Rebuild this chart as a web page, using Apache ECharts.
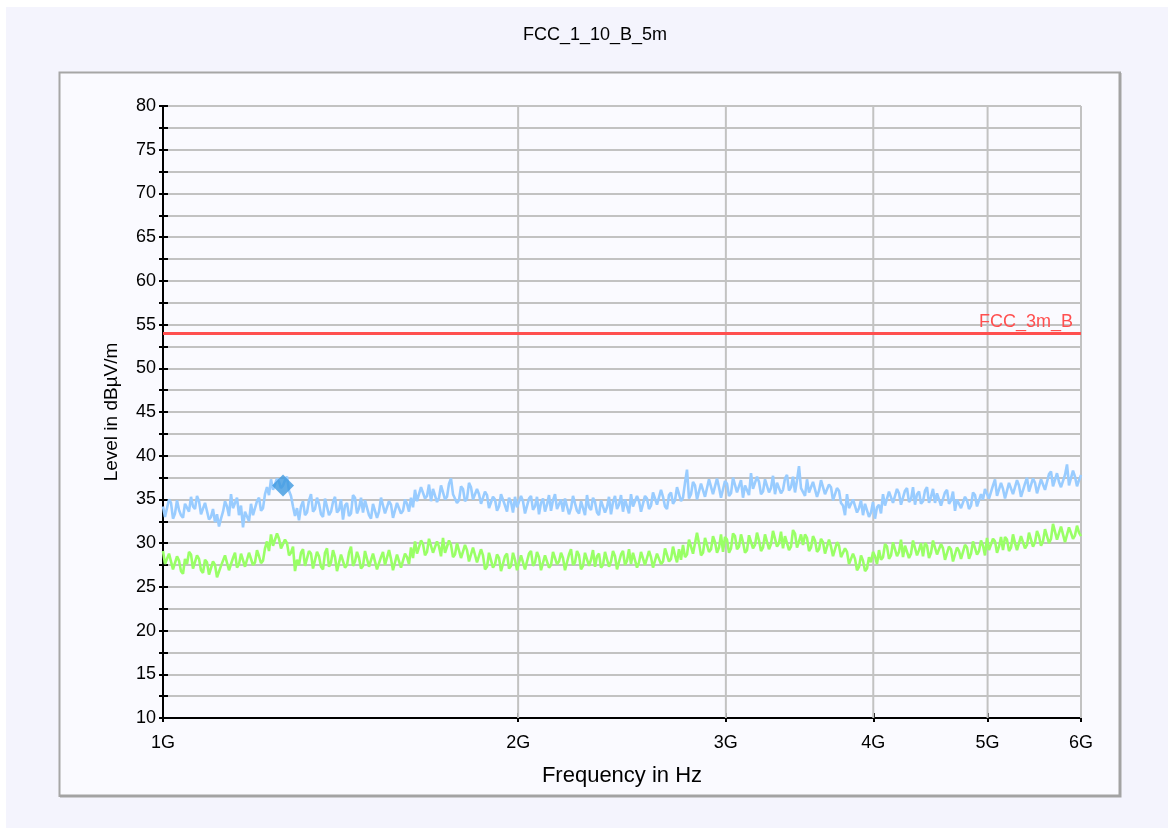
<!DOCTYPE html>
<html>
<head>
<meta charset="utf-8">
<title>FCC_1_10_B_5m</title>
<script src="https://cdn.jsdelivr.net/npm/echarts@6/dist/echarts.min.js"></script>
<style>
  html, body { margin: 0; padding: 0; background: #ffffff; }
  #chart { width: 1168px; height: 828px; }
</style>
</head>
<body>
<div id="chart"></div>
<script>
// Sweep: 1 GHz .. 6 GHz, points evenly spaced on the log-frequency scale
const sweepStartGHz = 1;
const sweepStopGHz = 6;

// Peak detector trace (dBµV/m)
const peakLevels = [
  34.2, 33.0, 33.1, 35.0, 34.6, 32.8, 33.4, 34.9, 33.8, 33.2, 32.9, 34.5, 34.7, 33.6, 35.3, 34.2, 33.9, 35.4, 34.8, 33.3,
  33.5, 34.6, 34.4, 32.7, 33.0, 33.9, 32.4, 33.3, 31.9, 32.8, 33.6, 34.8, 34.2, 33.1, 35.6, 34.0, 34.1, 35.2, 33.2, 34.3,
  31.8, 33.6, 33.4, 32.5, 34.5, 33.2, 33.0, 34.8, 35.2, 33.7, 34.0, 35.6, 36.4, 35.5, 37.3, 36.1, 36.2, 37.4, 37.0, 36.3,
  36.6, 37.2, 37.6, 36.0, 35.4, 34.2, 33.1, 34.0, 32.6, 34.2, 34.8, 33.2, 33.5, 34.9, 35.6, 33.6, 33.9, 35.2, 34.5, 33.3,
  33.0, 35.1, 34.9, 33.2, 33.6, 34.7, 35.3, 33.5, 33.8, 35.0, 32.7, 34.3, 34.6, 33.1, 33.4, 35.5, 35.2, 33.4, 34.0, 35.2,
  33.5, 34.9, 34.7, 33.2, 32.8, 34.5, 34.3, 32.9, 33.6, 35.2, 35.0, 33.4, 33.3, 34.8, 34.4, 32.9, 33.0, 34.6, 34.8, 33.4,
  33.7, 35.0, 34.5, 33.6, 35.2, 34.1, 36.1, 34.8, 35.0, 36.4, 36.5, 35.1, 35.4, 36.7, 34.8, 36.2, 36.0, 34.7, 35.2, 36.6,
  36.7, 35.0, 35.3, 36.8, 37.4, 35.6, 35.8, 34.6, 34.9, 36.5, 36.2, 34.8, 35.1, 36.9, 36.4, 35.0, 34.8, 36.2, 35.6, 34.5,
  34.6, 35.9, 35.5, 34.0, 33.9, 35.3, 35.0, 33.7, 34.2, 35.6, 35.8, 34.3, 33.6, 35.2, 34.7, 33.5, 35.3, 34.1, 34.0, 35.4,
  34.8, 33.4, 33.5, 35.1, 35.4, 33.8, 34.2, 35.3, 33.3, 34.6, 35.1, 33.6, 34.4, 35.5, 33.7, 34.9, 35.6, 33.9, 34.1, 35.0,
  33.6, 35.1, 34.9, 33.3, 34.0, 35.4, 35.3, 33.7, 33.4, 34.8, 34.6, 33.2, 35.5, 34.1, 33.8, 35.2, 34.7, 33.5, 33.2, 34.9,
  35.0, 33.5, 34.1, 35.3, 33.3, 34.7, 35.4, 33.9, 34.4, 35.5, 33.6, 35.0, 34.9, 33.4, 35.6, 34.2, 34.0, 35.4, 34.8, 33.6,
  33.5, 35.4, 35.1, 33.9, 34.3, 35.8, 36.0, 34.4, 34.6, 36.1, 35.3, 34.2, 33.9, 35.5, 35.8, 34.5, 34.9, 36.4, 36.3, 34.8,
  35.2, 36.9, 38.4, 35.1, 35.6, 37.0, 36.6, 35.0, 35.0, 36.8, 36.9, 35.3, 35.4, 37.3, 37.2, 35.6, 35.8, 37.4, 36.4, 35.2,
  35.3, 37.1, 36.8, 35.4, 35.7, 37.5, 37.3, 35.8, 36.0, 37.2, 35.2, 36.6, 36.7, 35.5, 38.0, 36.2, 36.1, 37.6, 37.0, 35.6,
  35.9, 37.3, 37.5, 35.8, 36.3, 37.7, 35.6, 36.9, 36.9, 35.7, 36.1, 37.4, 37.8, 36.0, 36.4, 37.6, 35.8, 37.2, 38.8, 36.3,
  36.2, 35.4, 37.3, 35.8, 35.7, 37.0, 36.8, 35.3, 36.0, 37.2, 37.1, 35.6, 35.5, 36.7, 36.4, 34.9, 35.0, 36.3, 36.0, 34.6,
  34.3, 33.2, 35.6, 34.0, 33.8, 35.0, 35.2, 33.5, 34.0, 34.9, 33.2, 34.5, 34.6, 33.0, 33.5, 34.7, 32.8, 34.1, 34.4, 33.4,
  35.6, 34.3, 34.2, 35.9, 36.0, 34.6, 34.8, 36.2, 35.7, 34.4, 34.5, 36.0, 36.3, 34.7, 35.0, 36.4, 34.4, 35.6, 35.9, 34.5,
  34.8, 36.0, 36.4, 34.6, 35.3, 36.2, 34.6, 35.7, 35.8, 34.3, 34.2, 35.8, 36.1, 34.5, 34.9, 35.9, 33.7, 35.0, 35.2, 34.0,
  33.8, 35.3, 34.9, 33.9, 34.3, 35.8, 35.5, 34.2, 34.1, 35.6, 35.0, 36.2, 36.4, 35.1, 35.2, 36.6, 37.3, 35.4, 35.6, 36.9,
  36.2, 35.1, 35.3, 36.9, 37.0, 35.6, 35.7, 37.2, 36.6, 35.3, 35.4, 36.8, 37.5, 35.9, 36.0, 37.4, 36.9, 35.7, 35.8, 37.3,
  37.4, 36.1, 36.3, 37.9, 38.2, 36.5, 36.6, 38.0, 37.0, 36.4, 36.2, 37.8, 39.0, 36.6, 36.8, 38.3, 37.6, 36.5, 37.2, 37.8
];

// Average detector trace (dBµV/m)
const avgLevels = [
  29.1, 27.6, 27.4, 28.8, 28.6, 27.0, 26.9, 28.5, 28.0, 26.8, 26.5, 28.2, 27.6, 29.0, 28.7, 27.1, 27.3, 28.6, 28.2, 26.9,
  26.6, 28.1, 27.8, 26.4, 26.2, 27.9, 27.5, 26.1, 25.9, 27.4, 27.2, 28.6, 28.4, 26.9, 26.8, 28.3, 28.9, 27.2, 27.6, 28.8,
  28.6, 27.3, 27.2, 28.9, 29.0, 27.5, 27.8, 29.2, 28.5, 27.7, 28.0, 29.4, 30.2, 29.1, 31.0, 29.7, 29.8, 31.1, 30.5, 29.4,
  29.2, 30.4, 30.0, 28.6, 28.9, 29.6, 26.8, 28.1, 27.5, 28.9, 29.3, 27.4, 27.6, 29.1, 28.8, 27.1, 27.2, 29.0, 28.5, 27.3,
  27.0, 28.9, 29.4, 27.3, 27.8, 29.2, 28.4, 26.8, 26.9, 28.7, 28.8, 27.2, 27.5, 28.9, 29.6, 27.4, 27.9, 29.0, 28.3, 27.1,
  27.4, 29.1, 28.9, 27.3, 27.1, 28.8, 28.6, 27.0, 26.8, 28.4, 29.0, 27.5, 27.7, 29.2, 28.2, 26.9, 26.9, 28.7, 28.6, 27.2,
  27.2, 28.8, 28.4, 27.6, 29.5, 28.3, 30.2, 28.8, 28.9, 30.3, 29.9, 28.6, 29.0, 30.5, 30.4, 28.9, 28.8, 30.2, 29.6, 28.5,
  30.6, 28.9, 29.1, 30.3, 29.8, 28.4, 28.7, 30.0, 29.9, 28.3, 28.5, 29.8, 29.2, 27.9, 28.0, 29.5, 29.4, 27.8, 27.8, 29.3,
  28.6, 27.0, 27.3, 28.9, 29.0, 27.2, 27.6, 28.7, 28.3, 26.8, 26.9, 28.5, 28.8, 27.1, 27.4, 28.9, 28.1, 26.9, 27.1, 28.6,
  28.5, 27.0, 27.2, 28.8, 29.1, 27.4, 27.8, 29.0, 28.4, 26.9, 27.0, 28.6, 28.7, 27.2, 27.5, 29.0, 29.2, 27.6, 27.9, 28.9,
  28.3, 26.9, 27.1, 28.7, 29.3, 27.5, 27.8, 29.1, 28.6, 27.0, 27.4, 28.9, 29.0, 27.4, 28.1, 29.2, 27.3, 28.5, 28.8, 27.2,
  27.5, 29.0, 28.9, 27.3, 27.9, 29.1, 28.5, 27.0, 27.2, 28.7, 29.1, 27.5, 28.0, 29.3, 27.6, 28.9, 28.7, 27.2, 27.8, 29.0,
  29.0, 27.5, 27.7, 29.1, 28.4, 27.2, 27.1, 28.8, 28.9, 27.6, 27.9, 29.4, 29.4, 27.9, 28.2, 29.6, 28.6, 27.8, 29.3, 28.1,
  29.8, 28.4, 28.7, 30.4, 30.3, 28.8, 29.0, 31.2, 30.0, 28.6, 28.9, 30.6, 30.5, 29.0, 29.3, 30.8, 30.1, 28.9, 29.5, 31.0,
  29.0, 30.7, 30.4, 28.9, 29.4, 31.1, 30.8, 29.3, 29.6, 31.0, 30.1, 28.9, 29.2, 30.9, 31.0, 29.4, 29.8, 31.2, 30.3, 29.1,
  29.5, 31.0, 30.9, 29.3, 29.9, 31.4, 31.2, 29.6, 30.0, 31.3, 29.4, 30.8, 30.7, 29.2, 29.6, 31.5, 31.1, 29.5, 30.2, 31.0,
  29.8, 31.0, 30.6, 29.1, 29.5, 30.8, 30.3, 29.0, 29.3, 30.5, 30.1, 28.8, 29.0, 30.4, 29.6, 28.5, 28.7, 30.1, 29.7, 28.4,
  28.3, 29.4, 29.0, 27.6, 27.7, 28.8, 28.2, 26.9, 27.3, 28.6, 28.0, 26.8, 27.1, 28.4, 27.8, 29.0, 28.5, 27.6, 29.2, 28.1,
  28.4, 29.9, 29.6, 28.2, 28.6, 30.1, 30.0, 28.5, 29.0, 30.4, 28.4, 29.7, 29.8, 28.3, 28.8, 30.3, 30.1, 28.6, 29.2, 30.0,
  28.5, 30.0, 29.7, 28.3, 28.9, 30.3, 30.2, 28.7, 28.6, 29.9, 29.4, 28.1, 28.2, 29.6, 29.3, 27.9, 28.0, 29.5, 29.1, 28.2,
  28.4, 29.8, 29.5, 28.2, 28.8, 30.2, 30.0, 28.7, 29.1, 30.3, 29.7, 28.6, 30.6, 29.2, 29.4, 30.5, 30.2, 28.9, 29.6, 30.7,
  29.2, 30.7, 30.4, 29.1, 29.5, 31.0, 30.0, 29.2, 29.3, 30.8, 30.7, 29.4, 29.8, 31.2, 31.0, 29.6, 30.1, 31.4, 30.8, 29.7,
  30.2, 31.6, 31.4, 30.0, 30.5, 32.2, 32.2, 30.4, 30.6, 31.9, 31.0, 30.1, 30.3, 31.8, 31.7, 30.5, 30.9, 32.0, 31.2, 30.8
];

// Limit line
const limitName = 'FCC_3m_B';
const limitLevel = 54;

// Final measurement marker
const markerFreqGHz = 1.264;
const markerLevel = 36.6;

// Axis ticks
const freqTicksGHz = [1, 2, 3, 4, 5, 6];
const levelMin = 10;
const levelMax = 80;
const levelStep = 2.5;

const lg = Math.log10;

function sweepFreqs(n) {
  const out = [];
  for (let i = 0; i < n; i++) {
    out.push(sweepStartGHz * Math.pow(sweepStopGHz / sweepStartGHz, i / (n - 1)));
  }
  return out;
}
const peakFreqs = sweepFreqs(peakLevels.length);
const avgFreqs = sweepFreqs(avgLevels.length);
const peakData = peakLevels.map((v, i) => [lg(peakFreqs[i]), v]);
const avgData = avgLevels.map((v, i) => [lg(avgFreqs[i]), v]);

const FONT = 'Liberation Sans, Arial, sans-serif';
const tickVals = freqTicksGHz.map(lg);

const chart = echarts.init(document.getElementById('chart'), null, { renderer: 'canvas' });

const xBase = {
  type: 'value',
  min: lg(sweepStartGHz),
  max: lg(sweepStopGHz),
  splitLine: { show: false }
};
const yBase = {
  type: 'value',
  min: levelMin,
  max: levelMax,
  interval: levelStep
};

// vertical frequency grid lines at 2G..6G
const freqGridSeries = freqTicksGHz.slice(1).map(f => ({
  type: 'line',
  silent: true,
  z: 1,
  symbol: 'none',
  lineStyle: { color: '#c2c2c2', width: 2 },
  data: [[lg(f), levelMin], [lg(f), levelMax]]
}));

chart.setOption({
  animation: false,
  backgroundColor: '#ffffff',
  graphic: [
    { type: 'rect', silent: true, z: -10, shape: { x: 6, y: 7, width: 1162, height: 821 }, style: { fill: '#f4f4fd' } },
    { type: 'rect', silent: true, z: -9, shape: { x: 59, y: 72, width: 1062, height: 725 }, style: { fill: '#fafaff' } },
    { type: 'polyline', silent: true, z: -8, shape: { points: [[59.5, 797], [59.5, 72.5], [1121, 72.5]] }, style: { stroke: '#a6a6a6', lineWidth: 2, fill: null } },
    { type: 'polyline', silent: true, z: -8, shape: { points: [[60, 796], [1120, 796], [1120, 73]] }, style: { stroke: '#a3a3a3', lineWidth: 3, fill: null } }
  ],
  title: {
    text: 'FCC_1_10_B_5m',
    left: 518,
    top: 21,
    textStyle: { fontFamily: FONT, fontSize: 18, fontWeight: 'normal', color: '#000' }
  },
  grid: { left: 163, top: 106, width: 918, height: 612, containLabel: false },
  xAxis: [
    Object.assign({}, xBase, {
      name: 'Frequency in Hz',
      nameLocation: 'middle',
      nameGap: 47,
      nameTextStyle: { fontFamily: FONT, fontSize: 22, color: '#000' },
      axisLine: { show: true, onZero: false, lineStyle: { color: '#000', width: 2 } },
      axisTick: { show: true, inside: true, length: 5, customValues: tickVals, lineStyle: { color: '#000', width: 2 } },
      axisLabel: {
        show: true,
        customValues: tickVals,
        margin: 16,
        fontFamily: FONT, fontSize: 18, color: '#000',
        formatter: v => Math.round(Math.pow(10, v)) + 'G'
      }
    }),
    Object.assign({}, xBase, {
      position: 'bottom',
      axisLine: { show: false },
      axisTick: { show: true, inside: false, length: 4, customValues: tickVals, lineStyle: { color: '#000', width: 2 } },
      axisLabel: { show: false }
    })
  ],
  yAxis: [
    Object.assign({}, yBase, {
      name: 'Level in dBµV/m',
      nameLocation: 'middle',
      nameGap: 42,
      nameTextStyle: { fontFamily: FONT, fontSize: 19, color: '#000' },
      axisLine: { show: true, onZero: false, lineStyle: { color: '#000', width: 2 } },
      axisTick: { show: true, inside: false, length: 4, lineStyle: { color: '#000', width: 2 } },
      axisLabel: {
        margin: 7,
        padding: [4, 0, 0, 0],
        fontFamily: FONT, fontSize: 18, color: '#000',
        formatter: v => (v % 5 === 0 ? String(v) : '')
      },
      splitLine: { show: true, lineStyle: { color: '#c2c2c2', width: 2 } }
    }),
    Object.assign({}, yBase, {
      position: 'left',
      axisLine: { show: false },
      axisTick: { show: true, inside: true, length: 5, lineStyle: { color: '#000', width: 2 } },
      axisLabel: { show: false },
      splitLine: { show: false }
    })
  ],
  series: freqGridSeries.concat([
    {
      name: 'Peak',
      type: 'line',
      data: peakData,
      showSymbol: false,
      symbol: 'none',
      z: 3,
      lineStyle: { color: '#99ccff', width: 2.6, join: 'bevel' }
    },
    {
      name: 'Average',
      type: 'line',
      data: avgData,
      showSymbol: false,
      symbol: 'none',
      z: 3,
      lineStyle: { color: '#99ff66', width: 2.6, join: 'bevel' }
    },
    {
      name: limitName,
      type: 'line',
      data: [],
      z: 4,
      markLine: {
        silent: true,
        symbol: 'none',
        animation: false,
        lineStyle: { color: '#ff4f4f', width: 3, type: 'solid' },
        label: {
          show: true,
          position: 'insideEndTop',
          distance: [8, 2],
          formatter: limitName,
          color: '#ff4f4f',
          fontFamily: FONT,
          fontSize: 18
        },
        data: [{ yAxis: limitLevel }]
      }
    },
    {
      name: 'Final',
      type: 'scatter',
      z: 5,
      symbol: 'diamond',
      symbolSize: [22, 22],
      itemStyle: { color: '#3d99e0' },
      data: [[lg(markerFreqGHz), markerLevel]]
    }
  ])
});
</script>
</body>
</html>
